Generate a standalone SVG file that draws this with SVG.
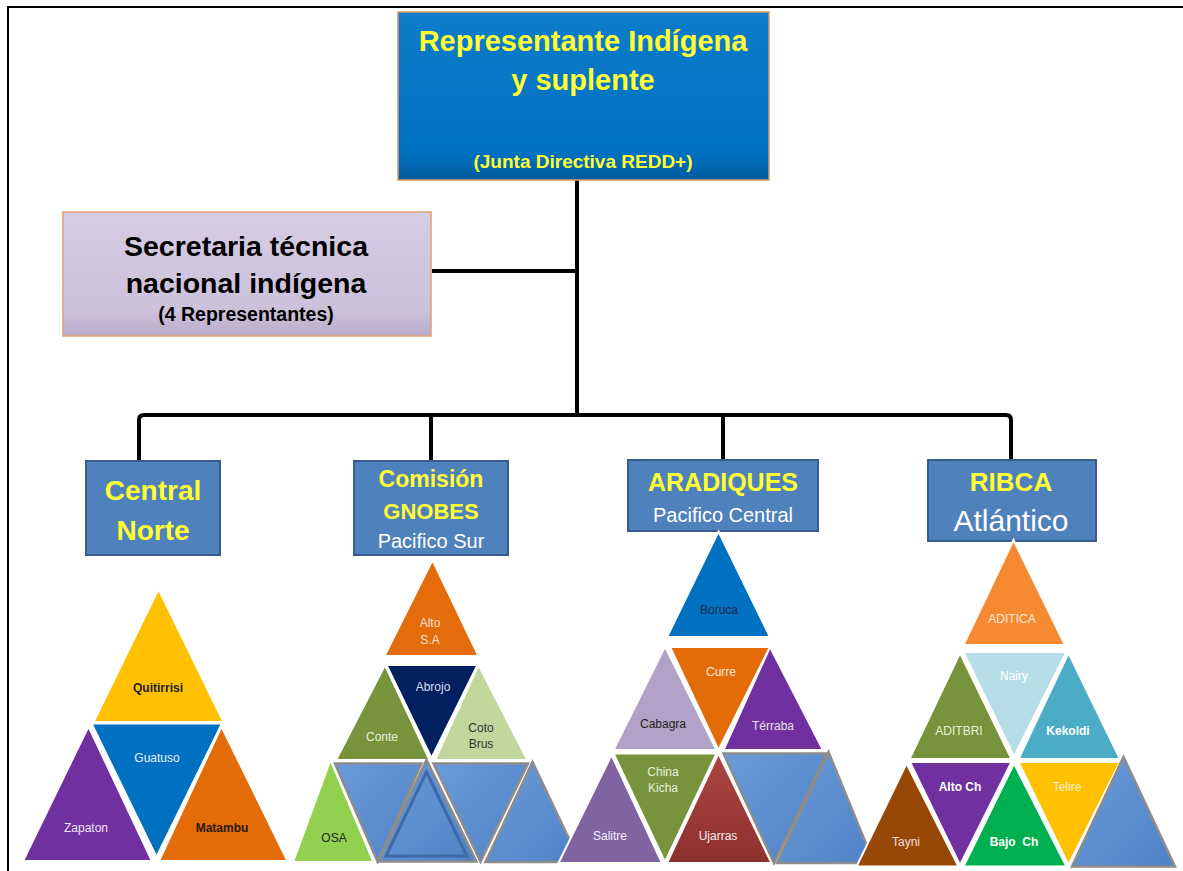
<svg xmlns="http://www.w3.org/2000/svg" width="1183" height="871" viewBox="0 0 1183 871">
<defs>
<linearGradient id="gTop" x1="0" y1="0" x2="0" y2="1"><stop offset="0" stop-color="#0E7CCB"/><stop offset="0.85" stop-color="#0070C0"/><stop offset="1" stop-color="#005A9C"/></linearGradient>
<linearGradient id="gSec" x1="0" y1="0" x2="0" y2="1"><stop offset="0" stop-color="#D6CCE4"/><stop offset="0.8" stop-color="#CCC1DA"/><stop offset="1" stop-color="#B8ABCB"/></linearGradient>
<linearGradient id="gBev" x1="0" y1="0" x2="1" y2="1"><stop offset="0" stop-color="#6A9BDA"/><stop offset="1" stop-color="#4F82C6"/></linearGradient>
<linearGradient id="gUj" x1="0" y1="0" x2="0" y2="1"><stop offset="0" stop-color="#AE4643"/><stop offset="1" stop-color="#8C302E"/></linearGradient>
<style>
.t{font-family:"Liberation Sans",Arial,sans-serif;text-anchor:middle}
.b{font-weight:bold}
.y{fill:#FFFF33}
.w{fill:#FFFFFF}
.hdr{fill:#4F81BD;stroke:#385D8A;stroke-width:2}
.tri{stroke:#FFFFFF;stroke-width:2;stroke-linejoin:miter}
.bev{fill:url(#gBev);stroke:#8C8C8C;stroke-width:2.5}
.lb{font-family:"Liberation Sans",Arial,sans-serif;text-anchor:middle;font-size:12px}
.con{fill:none;stroke:#000;stroke-width:4;stroke-linejoin:round}
</style>
</defs>
<rect width="1183" height="871" fill="#FFFFFF"/>
<path d="M8 871 V7 H1183" fill="none" stroke="#000" stroke-width="2"/>

<g id="connectors">
<path class="con" d="M577 180 V415"/>
<path class="con" d="M432 271 H577"/>
<path class="con" d="M139 461 V420 Q139 415 144 415 H1006 Q1011 415 1011 420 V460"/>
<path class="con" d="M431 415 V461"/>
<path class="con" d="M723 415 V460"/>
</g>

<g id="n-top">
<rect x="398" y="12" width="371" height="168" fill="url(#gTop)" stroke="#D99A60" stroke-width="1.5"/>
<text class="t b y" x="583" y="51" font-size="29">Representante Indígena</text>
<text class="t b y" x="583" y="90" font-size="29">y suplente</text>
<text class="t b y" x="583" y="168" font-size="19">(Junta Directiva REDD+)</text>
</g>

<g id="n-sec">
<rect x="63" y="212" width="368" height="124" fill="url(#gSec)" stroke="#E0A070" stroke-width="1.5"/>
<text class="t b" x="246" y="256" font-size="28.5" fill="#000">Secretaria técnica</text>
<text class="t b" x="246" y="293" font-size="28.5" fill="#000">nacional indígena</text>
<text class="t b" x="246" y="321" font-size="19.5" fill="#000">(4 Representantes)</text>
</g>

<g id="n-central">
<rect class="hdr" x="86" y="461" width="134" height="94"/>
<text class="t b y" x="153" y="500" font-size="28">Central</text>
<text class="t b y" x="153" y="540" font-size="28">Norte</text>
</g>

<g id="n-gnobes">
<rect class="hdr" x="354" y="461" width="154" height="94"/>
<text class="t b y" x="431" y="487" font-size="23">Comisión</text>
<text class="t b y" x="431" y="519" font-size="22">GNOBES</text>
<text class="t w" x="431" y="548" font-size="20">Pacifico Sur</text>
</g>

<g id="n-aradiques">
<rect class="hdr" x="628" y="460" width="190" height="71"/>
<text class="t b y" x="723" y="491" font-size="25">ARADIQUES</text>
<text class="t w" x="723" y="522" font-size="20">Pacifico Central</text>
</g>

<g id="n-ribca">
<rect class="hdr" x="928" y="460" width="168" height="81"/>
<text class="t b y" x="1011" y="491" font-size="26">RIBCA</text>
<text class="t w" x="1011" y="531" font-size="30">Atlántico</text>
</g>

<!-- Group 1: Central Norte -->
<g id="t-quitirrisi"><polygon class="tri" fill="#FFC000" points="158.5,589 223.5,722 93.5,722"/><text class="lb b" x="158" y="692" fill="#222">Quitirrisi</text></g>
<g id="t-guatuso"><polygon class="tri" fill="#0070C0" points="91.5,723.5 222,723.5 156.5,857"/><text class="lb" x="157" y="762" fill="#E8EEF8">Guatuso</text></g>
<g id="t-zapaton"><polygon class="tri" fill="#7030A0" points="88.5,726.5 152,861 23,861"/><text class="lb" x="86" y="832" fill="#EEE6F4">Zapaton</text></g>
<g id="t-matambu"><polygon class="tri" fill="#E36C09" points="221.5,726.5 287.5,861 159,861"/><text class="lb b" x="222" y="832" fill="#2A1A0A">Matambu</text></g>

<!-- Group 2: GNOBES -->
<g id="t-altosa"><polygon class="tri" fill="#E46C0A" points="432.5,560 478.5,656 384.5,656"/><text class="lb" x="430" y="627" fill="#F8E0D0">Alto</text><text class="lb" x="430" y="644" fill="#F8E0D0">S.A</text></g>
<g id="t-abrojo"><polygon class="tri" fill="#002060" points="386.5,665 477.5,665 431.5,758"/><text class="lb" x="433" y="691" fill="#D8DCE8">Abrojo</text></g>
<g id="t-conte"><polygon class="tri" fill="#77933C" points="385,665 429.5,760 336,760"/><text class="lb" x="382" y="741" fill="#EAF1DD">Conte</text></g>
<g id="t-cotobrus"><polygon class="tri" fill="#C3D69B" points="478.5,665 527.5,760 435,760"/><text class="lb" x="481" y="732" fill="#333">Coto</text><text class="lb" x="481" y="748" fill="#333">Brus</text></g>
<g id="t-osa"><polygon class="tri" fill="#92D050" points="330.5,760 373.5,862 293,862"/><text class="lb" x="334" y="842" fill="#222">OSA</text></g>
<g id="t-g2b1"><polygon class="bev" points="335,763.5 421.5,763.5 377.5,861.5"/></g>
<g id="t-g2b2"><polygon class="bev" points="426.5,760 476.5,861.5 378.5,861.5"/><polygon points="426.5,772 467,856 386,856" fill="none" stroke="#3E6AA6" stroke-width="3"/></g>
<g id="t-g2b3"><polygon class="bev" points="433.5,763.5 528,763.5 480.5,861.5"/></g>
<g id="t-g2b4"><polygon class="bev" points="532.5,762 580,862 485.5,862"/></g>

<!-- Group 3: ARADIQUES -->
<g id="t-boruca"><polygon class="tri" fill="#0070C0" points="718.5,531.5 770,637 667,637"/><text class="lb" x="719" y="614" fill="#1F2A50">Boruca</text></g>
<g id="t-curre"><polygon class="tri" fill="#E36C09" points="670,647 770,647 718.5,750"/><text class="lb" x="721" y="676" fill="#FDE9D9">Curre</text></g>
<g id="t-cabagra"><polygon class="tri" fill="#B3A2C7" points="665,646.5 716.5,750 613.5,750"/><text class="lb" x="663" y="728" fill="#222">Cabagra</text></g>
<g id="t-terraba"><polygon class="tri" fill="#7030A0" points="770,647 823,750 723.5,750"/><text class="lb" x="773" y="730" fill="#E5E0EC">Térraba</text></g>
<g id="t-salitre"><polygon class="tri" fill="#8064A2" points="611.5,755 662,863 558.5,863"/><text class="lb" x="610" y="840" fill="#F4F0F8">Salitre</text></g>
<g id="t-chinakicha"><polygon class="tri" fill="#77933C" points="613.5,753.5 716.5,753.5 665,862"/><text class="lb" x="663" y="776" fill="#EAF1DD">China</text><text class="lb" x="663" y="792" fill="#EAF1DD">Kicha</text></g>
<g id="t-ujarras"><polygon class="tri" fill="url(#gUj)" points="718.5,753.5 771.5,863 667,863"/><text class="lb" x="718" y="840" fill="#F8ECEC">Ujarras</text></g>
<g id="t-g3b1"><polygon class="bev" points="723.5,753.5 826.5,753.5 774,863"/></g>
<g id="t-g3b2"><polygon class="bev" points="828.5,752 874,863 777,863"/></g>

<!-- Group 4: RIBCA -->
<g id="t-aditica"><polygon class="tri" fill="#F58A32" points="1013.5,540 1065,645 963.5,645"/><text class="lb" x="1012" y="623" fill="#FDE9D9">ADITICA</text></g>
<g id="t-nairy"><polygon class="tri" fill="#B7DEE8" points="963.5,652 1066.5,652 1014,756.5"/><text class="lb" x="1014" y="680" fill="#FFFFFF">Nairy</text></g>
<g id="t-aditbri"><polygon class="tri" fill="#77933C" points="960,653 1011.5,759 909.5,759"/><text class="lb" x="959" y="735" fill="#EAF1DD">ADITBRI</text></g>
<g id="t-kekoldi"><polygon class="tri" fill="#4BACC6" points="1068.5,653 1120,759 1018.5,759"/><text class="lb b" x="1068" y="735" fill="#FFFFFF">Kekoldi</text></g>
<g id="t-tayni"><polygon class="tri" fill="#974806" points="906.5,763.5 958.5,866.5 856.5,866.5"/><text class="lb" x="906" y="846" fill="#F2DCDB">Tayni</text></g>
<g id="t-altoch"><polygon class="tri" fill="#7030A0" points="910,762 1011.5,762 960,865"/><text class="lb b" x="960" y="791" fill="#FFFFFF">Alto Ch</text></g>
<g id="t-bajoch"><polygon class="tri" fill="#00B050" points="1014,763.5 1066.5,866.5 963.5,866.5"/><text class="lb b" x="1014" y="846" fill="#FFFFFF" xml:space="preserve">Bajo  Ch</text></g>
<g id="t-telire"><polygon class="tri" fill="#FFC000" points="1018.5,762 1120,762 1068.5,865"/><text class="lb" x="1067" y="791" fill="#FFF2CC">Telire</text></g>
<g id="t-g4b1"><polygon class="bev" points="1123.5,757 1175,866.5 1072,866.5"/></g>
</svg>
